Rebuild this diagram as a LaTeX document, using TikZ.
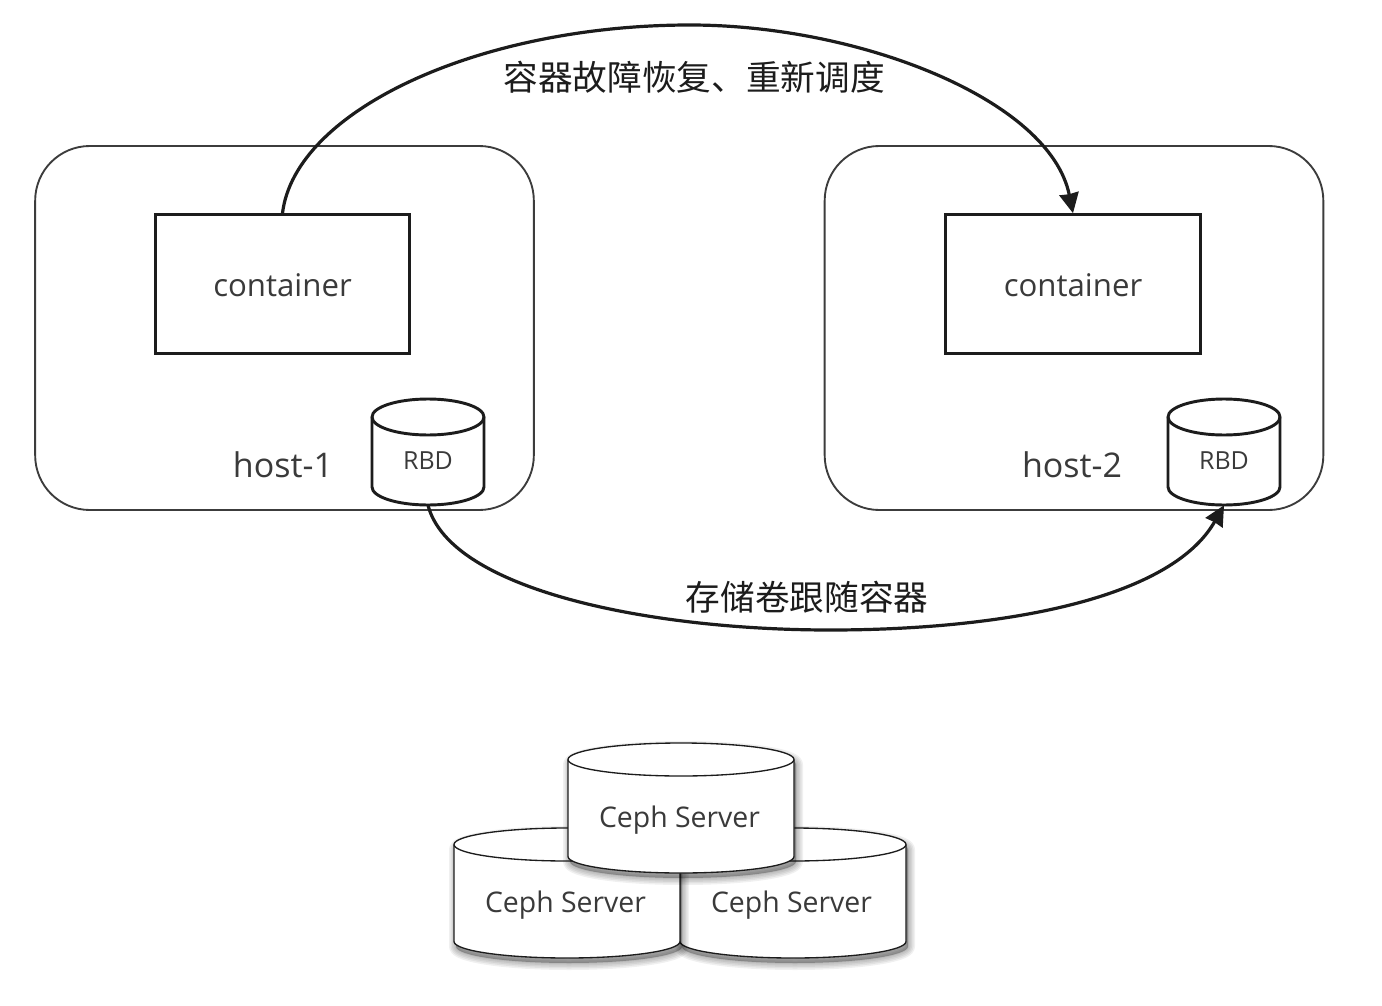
\documentclass[tikz,border=0pt]{standalone}
\usepackage{fontspec}
\setmainfont{Open Sans}[Scale=1]
\newfontfamily\cjk{Noto Sans CJK SC}
\usetikzlibrary{arrows.meta,calc}
\definecolor{ink}{HTML}{1C1C1C}
\definecolor{hostline}{HTML}{3C3C3C}
\definecolor{txt}{HTML}{3A3A3A}
\tikzset{
  hostbox/.style={draw=hostline,line width=1.4pt,rounded corners=41pt,minimum width=374pt,minimum height=273pt,inner sep=0pt},
  contbox/.style={draw=ink,line width=2.2pt,minimum width=191pt,minimum height=104pt,inner sep=0pt,text=txt,font=\fontsize{23.4}{26}\selectfont},
  lab/.style={text=txt,inner sep=0pt,font=\fontsize{25.5}{28}\selectfont},
  cjklab/.style={text=ink,inner sep=0pt,font=\cjk\fontsize{26}{29}\selectfont},
  cylhold/.style={inner sep=0pt,text=txt},
  link/.style={draw=ink,line width=2.4pt,-{Stealth[length=15pt,width=14.5pt,inset=0.5pt]}},
}
% name, cx, top, rx, ry, bottom, text, font, flag (s = light line with shadow)
\newcommand{\cylnode}[9]{%
  \node[cylhold,minimum width=#4*1.5pt,minimum height=(#6-#3)*0.75pt] (#1) at (#2,{(#3+#6)/2}) {};
  \def\cylbody{(#2-#4,#3+#5) arc[x radius=#4,y radius=#5,start angle=180,end angle=360]
     -- (#2+#4,#6-#5) arc[x radius=#4,y radius=#5,start angle=0,end angle=180] -- cycle}
  \if#9s
    \foreach \w in {14,11,8,5,2}{
      \fill[black,opacity=.06,line join=round,line width=\w*0.75pt,draw=black,shift={(2,5)}] \cylbody;
    }
    \def\cw{1pt}
    \def\tdx{-1.5}\def\tdy{12}
  \else
    \def\cw{2.2pt}
    \def\tdx{0}\def\tdy{9}
  \fi
  \draw[ink,line width=\cw,line join=round,fill=white] \cylbody;
  \draw[ink,line width=\cw] (#2-#4,#3+#5) arc[x radius=#4,y radius=#5,start angle=180,end angle=0];
  \node[cylhold,font=#8] (#1t) at ($(#1.center)+(\tdx,\tdy)$) {#7};
}
\begin{document}
\begin{tikzpicture}[x=0.75pt,y=-0.75pt]
\useasboundingbox (0,0) rectangle (1382,1006);
\fill[white] (0,0) rectangle (1382,1006);

\node[hostbox] (h1) at (284.5,328) {};
\node[hostbox] (h2) at (1074,328) {};
\node[contbox] (c1) at (282.5,284) {\raisebox{-9.5pt}[0pt][0pt]{container}};
\node[contbox] (c2) at (1073,284) {\raisebox{-9.5pt}[0pt][0pt]{container}};
\node[lab] (l1) at (283,465) {host-1};
\node[lab] (l2) at (1072,465) {host-2};

\cylnode{r1}{428}{399}{56}{18}{505}{RBD}{\fontsize{18.7}{20}\selectfont}{n}
\cylnode{r2}{1224}{399}{56}{18}{505}{RBD}{\fontsize{18.7}{20}\selectfont}{n}

\cylnode{s3}{793}{828}{113}{16.5}{958}{Ceph Server}{\fontsize{21.3}{24}\selectfont}{s}
\cylnode{s2}{567}{828}{113}{16.5}{958}{Ceph Server}{\fontsize{21.3}{24}\selectfont}{s}
\cylnode{s1}{681}{743}{113}{16.5}{873}{Ceph Server}{\fontsize{21.3}{24}\selectfont}{s}

\draw[link] (c1.north) .. controls (295,110) and (480,25) .. (690,25)
   .. controls (860,25) and (1050,100) .. (c2.north);
\draw[link] (r1.south) .. controls (450,590) and (650,630) .. (830,630)
   .. controls (1000,630) and (1170,600) .. (r2.south);

\node[cjklab] (t1) at (694,77) {容器故障恢复、重新调度};
\node[cjklab] (t2) at (807,597) {存储卷跟随容器};
\end{tikzpicture}
\end{document}
